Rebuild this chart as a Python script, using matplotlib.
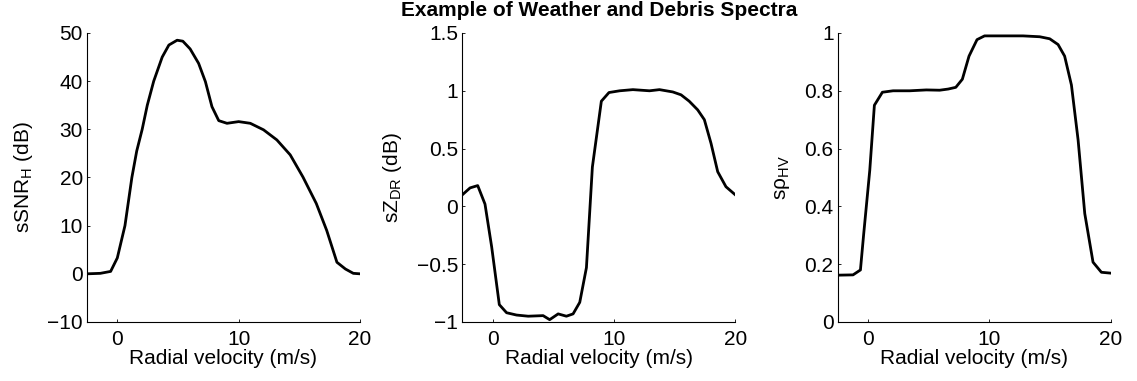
import matplotlib
matplotlib.use("Agg")
import matplotlib.pyplot as plt

plt.rcParams["font.family"] = ["Liberation Sans", "DejaVu Sans"]
plt.rcParams["mathtext.fontset"] = "custom"
plt.rcParams["mathtext.rm"] = "Liberation Sans"
plt.rcParams["axes.unicode_minus"] = True

# sSNR_H (dB)
v_snr = [-2.5, -1.4, -0.55, 0.0, 0.3, 0.63, 1.2, 1.6, 2.05, 2.47, 3.0, 3.7, 4.25, 4.93, 5.4,
         6.0, 6.7, 7.26, 7.8, 8.36, 9.04, 10.0, 10.96, 12.05, 13.15, 14.25, 15.3, 16.4,
         17.26, 18.1, 18.8, 19.45, 20.0]
snr = [0.0, 0.1, 0.5, 3.3, 6.5, 10.0, 20.0, 25.5, 30.0, 35.0, 40.0, 45.0, 47.5, 48.5, 48.3,
       46.7, 43.7, 39.9, 34.7, 31.8, 31.25, 31.6, 31.25, 29.9, 27.8, 24.7, 20.1, 14.6,
       9.0, 2.4, 1.0, 0.1, 0.0]

# sZDR (dB)
v_zdr = [-2.5, -1.86, -1.23, -0.63, -0.08, 0.55, 1.15, 1.97, 2.93, 4.16, 4.7, 5.4, 6.08,
         6.63, 7.18, 7.73, 8.22, 8.96, 9.59, 10.47, 11.56, 12.93, 13.75, 14.85, 15.53,
         16.2, 16.9, 17.45, 18.0, 18.55, 19.23, 20.0]
zdr = [0.10, 0.16, 0.18, 0.02, -0.35, -0.85, -0.92, -0.94, -0.95, -0.945, -0.98, -0.93,
       -0.95, -0.93, -0.83, -0.53, 0.34, 0.91, 0.985, 1.0, 1.01, 1.0, 1.01, 0.99, 0.965,
       0.91, 0.835, 0.75, 0.545, 0.30, 0.17, 0.10]

# s rho_HV
v_rho = [-2.5, -1.24, -0.63, -0.36, 0.14, 0.52, 1.18, 2.06, 3.43, 4.8, 5.9, 6.6, 7.23,
         7.77, 8.32, 8.98, 9.6, 10.85, 12.77, 14.15, 14.97, 15.66, 16.2, 16.76, 17.31,
         17.86, 18.54, 19.23, 20.0]
rho = [0.162, 0.163, 0.18, 0.305, 0.525, 0.75, 0.795, 0.80, 0.80, 0.803, 0.802, 0.806,
       0.812, 0.84, 0.92, 0.977, 0.99, 0.99, 0.99, 0.987, 0.98, 0.96, 0.92, 0.82, 0.63,
       0.375, 0.207, 0.172, 0.169]

fig = plt.figure(figsize=(11.37, 3.81), dpi=100)

lefts = [0.0765, 0.4066, 0.7368]
w, b, h = 0.2401, 0.1549, 0.7585

panels = [
    (v_snr, snr, "sSNR$_\\mathregular{H}$ (dB)", (-10, 50), [-10, 0, 10, 20, 30, 40, 50],
     ["\u221210", "0", "10", "20", "30", "40", "50"]),
    (v_zdr, zdr, "sZ$_\\mathregular{DR}$ (dB)", (-1, 1.5), [-1, -0.5, 0, 0.5, 1, 1.5],
     ["\u22121", "\u22120.5", "0", "0.5", "1", "1.5"]),
    (v_rho, rho, "s\u03c1$_\\mathregular{HV}$", (0, 1), [0, 0.2, 0.4, 0.6, 0.8, 1],
     ["0", "0.2", "0.4", "0.6", "0.8", "1"]),
]

fs = 15
axes = []
for i, (x, y, lab, yl, yt, ytl) in enumerate(panels):
    ax = fig.add_axes([lefts[i], b, w, h])
    ax.plot(x, y, color="black", linewidth=2)
    ax.set_xlim(-2.5, 20)
    ax.set_ylim(*yl)
    ax.set_xticks([0, 10, 20])
    ax.set_yticks(yt)
    ax.set_yticklabels(ytl)
    ax.spines["top"].set_visible(False)
    ax.spines["right"].set_visible(False)
    ax.spines["left"].set_linewidth(0.8)
    ax.spines["bottom"].set_linewidth(0.8)
    ax.tick_params(direction="in", length=2, width=0.6, labelsize=fs)
    ax.tick_params(axis="x", pad=6)
    ax.tick_params(axis="y", pad=3)
    ax.set_xlabel("Radial velocity (m/s)", fontsize=fs, labelpad=0)
    ax.set_ylabel(lab, fontsize=fs, labelpad=9)
    axes.append(ax)

axes[1].set_title("Example of Weather and Debris Spectra", fontsize=15, fontweight="bold", pad=12.5)

fig.savefig("out.png", dpi=100)
